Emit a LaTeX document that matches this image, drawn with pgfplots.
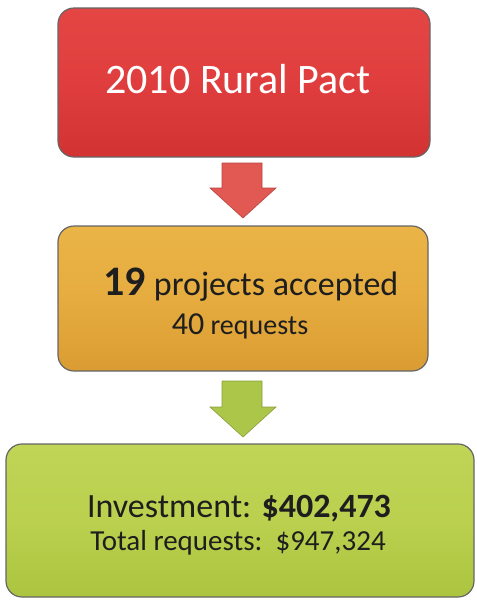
\documentclass[border=0pt]{standalone}
\usepackage{pgfplots}
\pgfplotsset{compat=1.18}
\usepackage{fontspec}
\setmainfont{Carlito}
\definecolor{boxred}{RGB}{224,62,62}
\definecolor{boxredL}{RGB}{228,70,68}
\definecolor{boxredD}{RGB}{210,50,50}
\definecolor{boxorg}{RGB}{230,172,64}
\definecolor{boxorgL}{RGB}{234,180,70}
\definecolor{boxorgD}{RGB}{218,156,50}
\definecolor{boxgrn}{RGB}{186,208,78}
\definecolor{boxgrnL}{RGB}{192,212,86}
\definecolor{boxgrnD}{RGB}{172,196,64}
\definecolor{arrred}{RGB}{226,88,82}
\definecolor{arrgrn}{RGB}{172,198,74}
\definecolor{txt}{RGB}{30,30,30}

\begin{document}
\begin{tikzpicture}
\begin{axis}[
  width=238.5pt, height=300.5pt, scale only axis,
  xmin=0, xmax=477, ymin=0, ymax=601,
  y dir=reverse, hide axis, clip=false,
]
% page frame
\path (axis cs:0,0) rectangle (axis cs:477,601);

% boxes
\draw[draw=black!60, line width=0.6pt, rounded corners=8pt,
      top color=boxredL, bottom color=boxredD, middle color=boxred]
  (axis cs:58,8) rectangle (axis cs:430,157);
\draw[draw=black!60, line width=0.6pt, rounded corners=8pt,
      top color=boxorgL, bottom color=boxorgD, middle color=boxorg]
  (axis cs:58,226) rectangle (axis cs:428,371);
\draw[draw=black!60, line width=0.6pt, rounded corners=8pt,
      top color=boxgrnL, bottom color=boxgrnD, middle color=boxgrn]
  (axis cs:6,444) rectangle (axis cs:474,597);

% arrows
\addplot[fill=arrred, draw=arrred!80!black, line width=0.3pt] coordinates {
  (222,163) (262,163) (262,188) (276,188) (243,218) (210,188) (222,188) (222,163)};
\addplot[fill=arrgrn, draw=arrgrn!80!black, line width=0.3pt] coordinates {
  (222,381) (262,381) (262,407) (276,407) (243,437) (210,407) (222,407) (222,381)};

% texts
\node[anchor=base, text=white, font=\fontsize{21}{24}\selectfont]
  at (axis cs:238,93) {2010 Rural Pact};
\node[anchor=base, text=txt, font=\fontsize{17}{20}\selectfont]
  at (axis cs:251,295) {{\fontsize{21}{22}\selectfont\bfseries 19} projects accepted};
\node[anchor=base, text=txt, font=\fontsize{14}{16}\selectfont]
  at (axis cs:240,334) {{\fontsize{16}{18}\selectfont 40} requests};
\node[anchor=base, text=txt, font=\fontsize{17}{20}\selectfont]
  at (axis cs:239,517) {Investment: \textbf{\$402,473}};
\node[anchor=base, text=txt, font=\fontsize{14.5}{17}\selectfont]
  at (axis cs:238,550) {Total requests:\ \ \$947,324};
\end{axis}
\end{tikzpicture}
\end{document}
